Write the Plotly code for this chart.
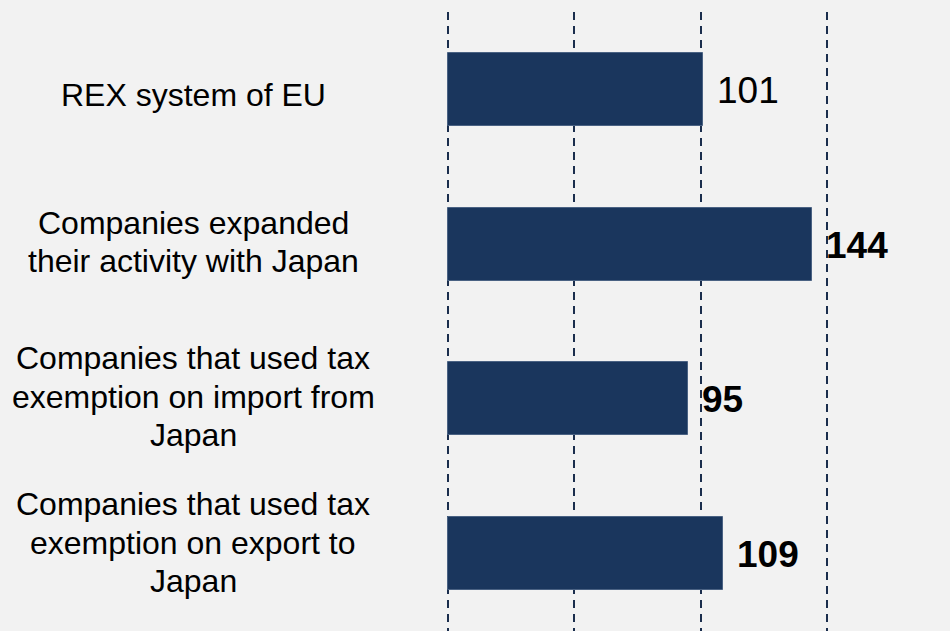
import plotly.graph_objects as go

# Categories (top to bottom) and their counts
categories = [
    "REX system of EU",
    "Companies expanded<br>their activity with Japan",
    "Companies that used tax<br>exemption on import from<br>Japan",
    "Companies that used tax<br>exemption on export to<br>Japan",
]
values = [101, 144, 95, 109]
grid_ticks = [0, 50, 100, 150]

# Styling for the value labels
value_bold = [False, True, True, True]
# Vertical nudge (px, positive = down) for each category label block
label_nudge = [8, 0, 0, -9]

BAR_COLOR = "#1a365d"
BG = "#f2f2f2"
FONT = "Liberation Sans, Arial, sans-serif"
LABEL_SIZE = 32
LINE_STEP = 38.5
VALUE_SIZE = 37

W, H = 950, 631
L_MARGIN = 447
X_MIN, X_MAX = -0.4, 198.8
LABEL_CENTER_PX = 193

positions = list(range(len(categories)))

fig = go.Figure(
    go.Bar(
        x=values,
        y=positions,
        orientation="h",
        width=0.471,
        marker=dict(color=BAR_COLOR, line=dict(color="#4a6283", width=1)),
        hoverinfo="skip",
    )
)

annotations = []
# Value labels to the right of each bar
for pos, val, bold in zip(positions, values, value_bold):
    txt = f"<b>{val}</b>" if bold else str(val)
    annotations.append(
        dict(
            x=val, y=pos, xref="x", yref="y",
            text=txt, showarrow=False,
            xanchor="left", yanchor="middle", xshift=12, yshift=-1,
            font=dict(family=FONT, size=VALUE_SIZE, color="#000000"),
        )
    )

# Category labels, centred in the left margin, one annotation per line
label_x = (LABEL_CENTER_PX - L_MARGIN) / (W - L_MARGIN)
for pos, cat, nudge in zip(positions, categories, label_nudge):
    lines = cat.split("<br>")
    n = len(lines)
    for i, line in enumerate(lines):
        offset = (i - (n - 1) / 2) * LINE_STEP + nudge
        annotations.append(
            dict(
                x=label_x, y=pos, xref="paper", yref="y",
                text=line, showarrow=False,
                xanchor="center", yanchor="middle",
                yshift=-offset + 2,
                font=dict(family=FONT, size=LABEL_SIZE, color="#000000"),
            )
        )

fig.update_layout(
    width=W, height=H,
    margin=dict(l=L_MARGIN, r=0, t=12, b=0, pad=0),
    paper_bgcolor=BG, plot_bgcolor=BG,
    showlegend=False,
    bargap=0,
    annotations=annotations,
    xaxis=dict(
        range=[X_MIN, X_MAX],
        tickvals=grid_ticks,
        showticklabels=False,
        showgrid=True,
        gridcolor="#1b2e4d",
        gridwidth=1.8,
        griddash="8px,6px",
        zeroline=False,
        showline=False,
        fixedrange=True,
    ),
    yaxis=dict(
        range=[len(categories) - 0.5, -0.5],
        showticklabels=False,
        showgrid=False,
        zeroline=False,
        showline=False,
        fixedrange=True,
    ),
)

fig.write_html("out.html", config={"displayModeBar": False})
